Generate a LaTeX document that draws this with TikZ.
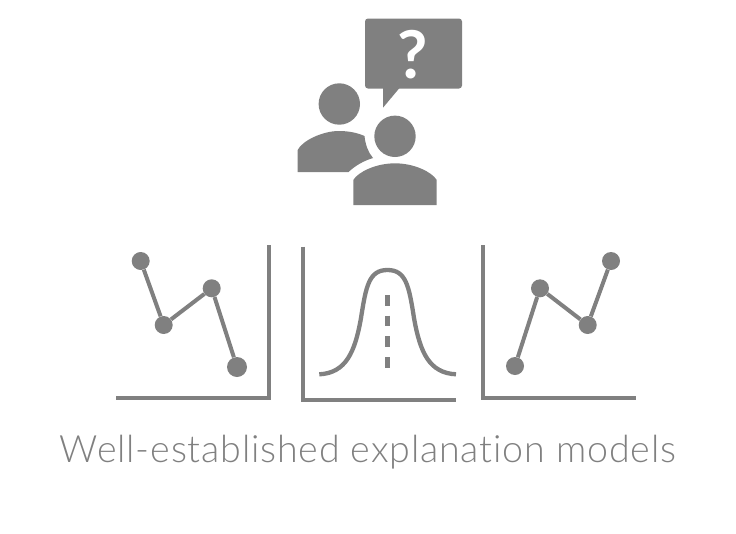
\documentclass[tikz,border=0pt]{standalone}
\usepackage{fontspec}
\setmainfont{Lato}
\newfontfamily\captionfont[Ligatures=NoCommon,LetterSpace=2.2]{Lato Light}
\definecolor{icongray}{HTML}{808080}
\begin{document}
\begin{tikzpicture}[
    x=1pt, y=-1pt,
    axis/.style={draw=icongray, line width=4.3pt},
    curveline/.style={draw=icongray, line width=4.3pt},
    link/.style={draw=icongray, line width=4pt},
    dot/.style={circle, fill=icongray, inner sep=0pt, minimum size=18pt},
    bigdot/.style={dot, minimum size=20pt},
    icon/.style={fill=icongray}
]
\useasboundingbox (0,0) rectangle (736,533);

% People with speech bubble
\fill[icon, rounded corners=3pt] (365,18.5) rectangle (462,88.5);
\fill[icon] (383,85) -- (383,107.7) -- (402,85) -- cycle;
\node[text=white, font=\fontsize{66}{66}\selectfont\bfseries, inner sep=0pt] (mark) at (412.5,55) {?};
\fill[icon] (339.3,104) circle (20.7);
\fill[icon] (395,136.3) circle (20.7);
\fill[icon] (297.7,172) -- (297.7,150) .. controls (302,141) and (322,131) .. (339,131) .. controls (349,131) and (358,133) .. (364.5,136)
    .. controls (365.5,145) and (368,152) .. (373,158) .. controls (363,161) and (355,166) .. (348.5,172) -- cycle;
\fill[icon] (353.3,205) -- (353.3,180) .. controls (358,172) and (376,163.3) .. (395,163.3) .. controls (414,163.3) and (432,172) .. (436.7,180) -- (436.7,205) -- cycle;

% Left chart
\draw[axis] (116,398) -- (268.7,398) -- (268.7,245);
\node[dot] (a1) at (140.7,261) {};
\node[dot] (a2) at (163.7,325) {};
\node[dot] (a3) at (211.7,288.3) {};
\node[bigdot] (a4) at (237,367) {};
\draw[link] (a1) -- (a2);
\draw[link] (a2) -- (a3);
\draw[link] (a3) -- (a4);

% Middle chart
\draw[axis] (303.3,246.5) -- (303.3,399.7) -- (456,399.7);
\draw[curveline] (319.3,374.3) .. controls (346,373) and (355,352) .. (361,318) .. controls (366,286) and (369,270) .. (387.5,270)
    .. controls (406,270) and (409,286) .. (414,318) .. controls (420,352) and (429,373) .. (456,374.3);
\draw[axis, dash pattern=on 10.7pt off 10pt] (387.5,295) -- (387.5,368);

% Right chart
\draw[axis] (483.3,245) -- (483.3,397.7) -- (635.7,397.7);
\node[dot] (b1) at (515,366) {};
\node[dot] (b2) at (540,288.3) {};
\node[dot] (b3) at (587.7,325) {};
\node[dot] (b4) at (611,261) {};
\draw[link] (b1) -- (b2);
\draw[link] (b2) -- (b3);
\draw[link] (b3) -- (b4);

% Caption
\node[text=icongray, font=\fontsize{37.6}{38}\selectfont\captionfont, inner sep=0pt] (caption) at (368,452) {Well-established explanation models};
\end{tikzpicture}
\end{document}
